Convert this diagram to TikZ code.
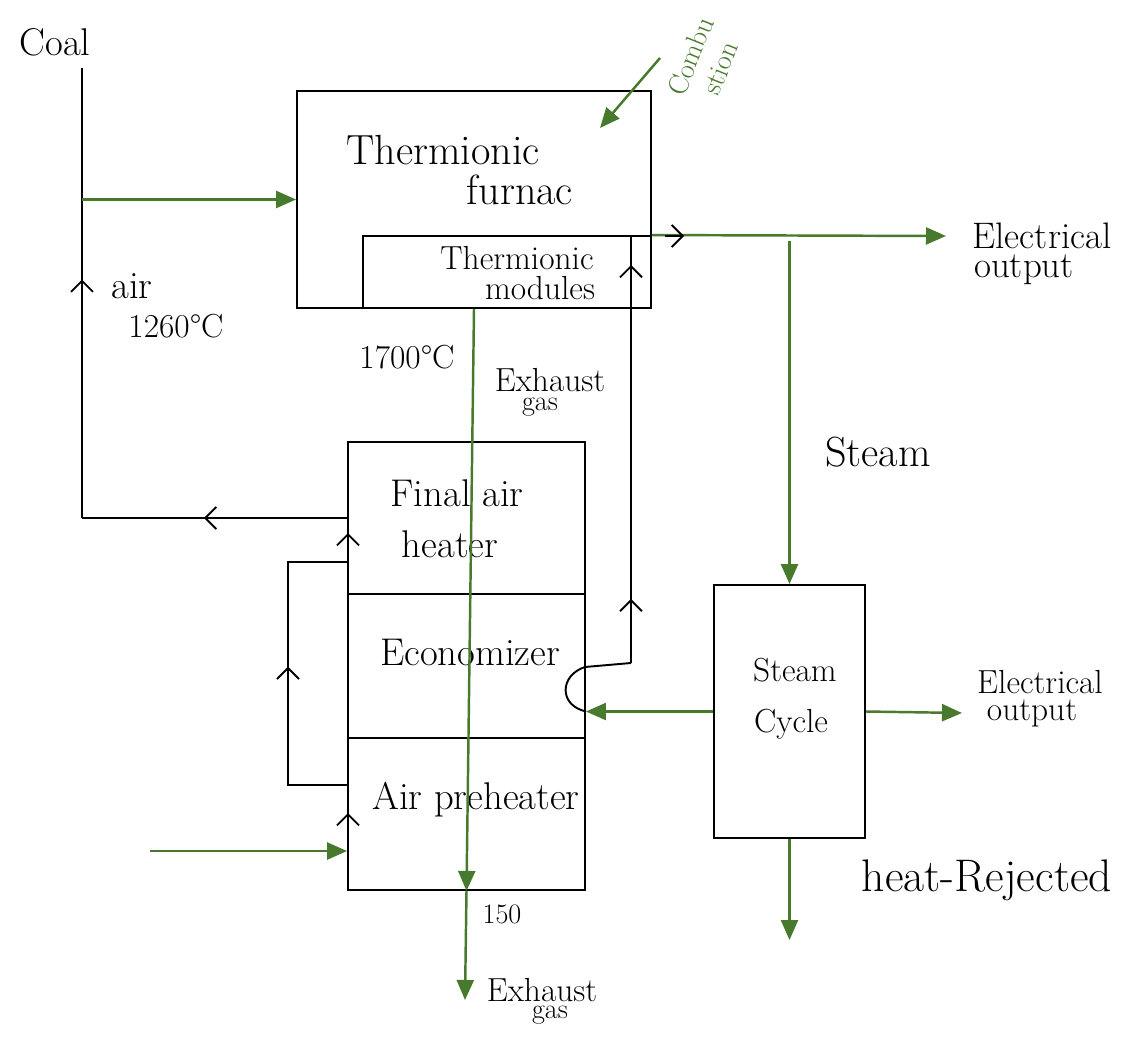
\documentclass[tikz,border=0pt]{standalone}
\usepackage{tikz}
\usetikzlibrary{arrows.meta,decorations.markings,positioning,calc}
\definecolor{flowgreen}{RGB}{72,122,46}
\tikzset{
	box/.style= {draw, line width=1.1pt, inner sep=0pt},
	pipe/.style= {draw, line width=1.1pt},
	flow/.style= {draw=flowgreen, line width=1.4pt,
		-{Triangle[length=4mm,width=3.4mm]}},
	barb/.style= {-{Straight Barb[length=2.2mm,width=4.4mm,line width=1.1pt]}},
	chev/.style= {postaction={decorate, decoration={markings,
		mark=at position #1 with {\arrow{Straight Barb[length=2.2mm,width=4.4mm,line width=1.1pt]}}}}},
	txt/.style= {font=\fontsize{22}{26}\selectfont, align=center, inner sep=1pt},
	midtxt/.style= {font=\fontsize{19}{21}\selectfont, align=center, inner sep=1pt},
	smalltxt/.style= {font=\fontsize{16}{18}\selectfont, align=center, inner sep=1pt}
}

\begin{document}
\begin{tikzpicture}[x=0.02cm, y=-0.02cm]
\useasboundingbox (0,0) rectangle (1140,1041);

% boxes
\node[box, minimum width=7.08cm, minimum height=4.34cm] (furnace) at (474,199.5) {};
\node[box, minimum width=5.76cm, minimum height=1.44cm] (modules) at (507,272) {};
\node[box, minimum width=4.74cm, minimum height=8.96cm] (heater) at (466.5,666) {};
\node[box, minimum width=3.02cm, minimum height=5.06cm] (steamcycle) at (789.5,711.5) {};

% heater sections
\draw[pipe] ($(heater.north west)!0.34!(heater.south west)$) -- ($(heater.north east)!0.34!(heater.south east)$);
\draw[pipe] ($(heater.north west)!0.66!(heater.south west)$) -- ($(heater.north east)!0.66!(heater.south east)$);

% labels
\node[txt] (coal) at (55,42) {Coal};
\node[txt, font=\fontsize{24}{28}\selectfont] (furnacetop) at (443,150) {Thermionic};
\node[txt, font=\fontsize{24}{28}\selectfont] (furnacebot) at (520,190) {furnac};
\node[midtxt] (modtop) at (517,258) {Thermionic};
\node[midtxt] (modbot) at (540,288) {modules};
\node[txt] (air) at (132,286) {air};
\node[midtxt] (airtemp) at (176,326) {1260\textdegree C};
\node[midtxt] (furnacetemp) at (407,357) {1700\textdegree C};
\node[midtxt] (exhtop) at (550,380) {Exhaust};
\node[smalltxt] (exhbot) at (540,407) {gas};
\node[txt] (finalair) at (457,493) {Final air};
\node[txt] (finalheater) at (450,544) {heater};
\node[txt] (econ) at (470,652) {Economizer};
\node[txt] (preheat) at (476,800) {Air preheater};
\node[txt, font=\fontsize{24}{28}\selectfont] (steam) at (878,452) {Steam};
\node[midtxt] (sctop) at (795,670) {Steam};
\node[midtxt] (scbot) at (791,724) {Cycle};
\node[txt, font=\fontsize{21}{24}\selectfont] (eltop) at (1042,236) {Electrical};
\node[txt, font=\fontsize{21}{24}\selectfont] (elbot) at (1024,270) {output};
\node[midtxt] (el2top) at (1040,682) {Electrical};
\node[midtxt] (el2bot) at (1032,713) {output};
\node[txt, font=\fontsize{26}{30}\selectfont] (rejected) at (987,880) {heat-Rejected};
\node[smalltxt] (exittemp) at (502,914) {150};
\node[midtxt] (exh2top) at (542,990) {Exhaust};
\node[smalltxt] (exh2bot) at (550,1015) {gas};
\node[smalltxt, text=flowgreen, rotate=68] (combustion) at (705,62) {Combu\\stion};

% coal and air line
\coordinate (coalstart) at (82,68);
\coordinate (airturn) at (82,518);
\draw[pipe, chev=0.53] (airturn) -- (coalstart);
\draw[pipe, chev=0.54] (heater.west |- airturn) -- (airturn);
\draw[flow] (coalstart |- furnace.west) -- (furnace.west);

% combustion
\coordinate (combstart) at (660,58);
\coordinate (combend) at (600,128);
\draw[flow] (combstart) -- (combend);

% air loop round the heater
\coordinate (loopbot) at (348,785);
\coordinate (looptop) at (348,562);
\draw[pipe, chev=0.52] (loopbot) -- (288,785) -- (288,562) -- (looptop);
\draw[pipe, barb] (348,550) -- (348,533);
\draw[pipe, barb] (348,830) -- (348,813);
\draw[flow] (150,851) -- (heater.west |- 0,851);

% exhaust gas
\draw[flow] (furnace.south) -- (heater.south);
\coordinate (exhend) at (465,1000);
\draw[flow] (heater.south) -- (exhend);

% water and steam
\coordinate (econin) at (heater.east |- steamcycle.west);
\coordinate (riserfoot) at (631,663);
\draw[flow] (steamcycle.west) -- (econin);
\draw[pipe] (econin) .. controls (558,705) and (560,675) .. (585,667) -- (riserfoot);
\draw[pipe, chev=0.15, chev=0.93] (riserfoot) -- (riserfoot |- modules.north);

% electrical output and steam
\coordinate (elend) at (946,236);
\draw[flow] (furnace.east |- modules.north) -- (elend);
\draw[pipe, barb] (665,236) -- (684,236);
\draw[flow] (steamcycle.north |- 0,241) -- (steamcycle.north);
\coordinate (el2end) at (962,713);
\draw[flow] (steamcycle.east) -- (el2end);
\coordinate (rejend) at (789.5,940);
\draw[flow] (steamcycle.south) -- (rejend);
\end{tikzpicture}
\end{document}
